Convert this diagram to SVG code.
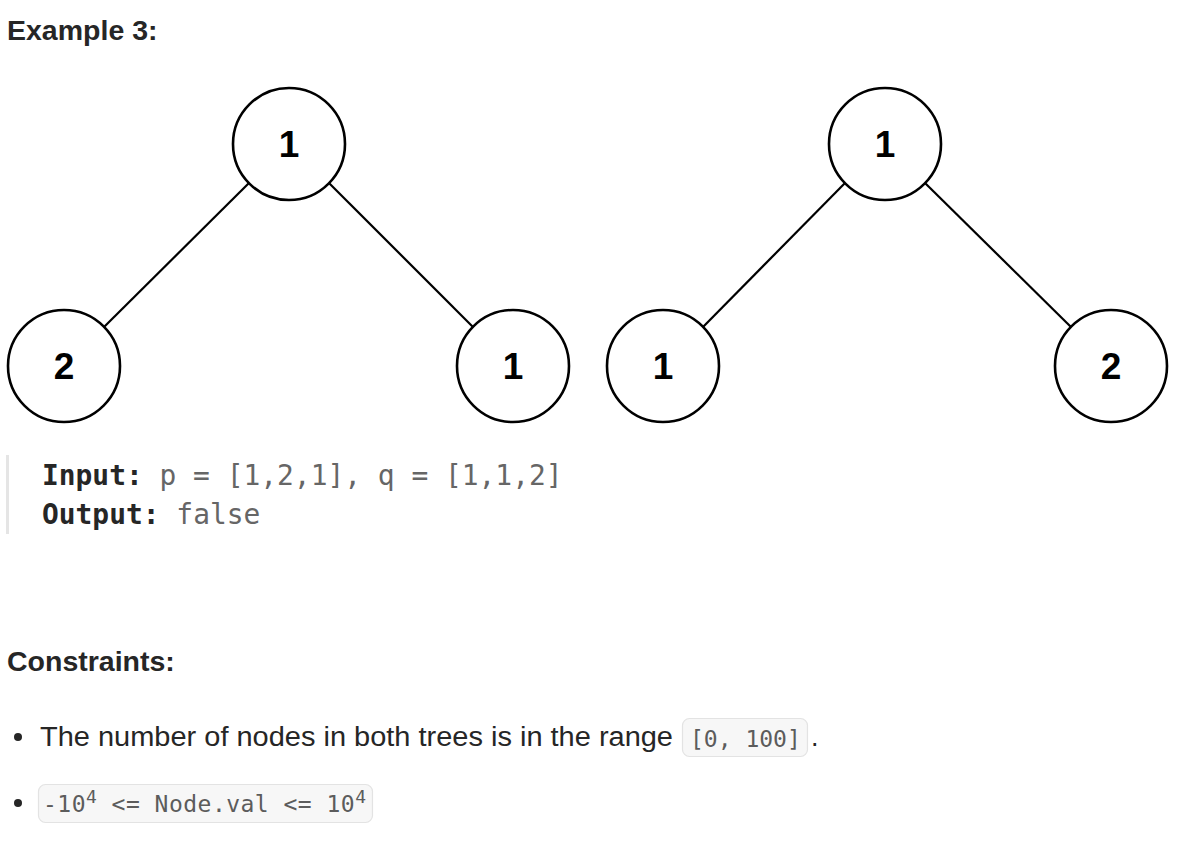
<svg xmlns="http://www.w3.org/2000/svg" width="1204" height="842" viewBox="0 0 1204 842">
<style>
.node circle{fill:#fff;stroke:#000;stroke-width:2.6}
.node text{font-family:"Liberation Sans",Arial,sans-serif;font-weight:bold;font-size:37px;fill:#000;text-anchor:middle}
.edge{stroke:#000;stroke-width:2.2;fill:none}
.h{font-family:"Liberation Sans",Arial,sans-serif;font-weight:bold;font-size:28.5px;fill:#262626}
.body{font-family:"Liberation Sans",Arial,sans-serif;font-size:27px;fill:#262626}
.mono{font-family:"DejaVu Sans Mono","Liberation Mono",monospace;font-size:27.9px;fill:#666}
.mono .b{font-weight:bold;fill:#262626}
.code{font-family:"DejaVu Sans Mono","Liberation Mono",monospace;font-size:23px;fill:#5c5c5c}
.cbox{fill:#f7f7f7;stroke:#e3e3e3;stroke-width:1.2}
</style>
<rect width="1204" height="842" fill="#fff"/>
<text class="h" x="7" y="40">Example 3:</text>
<g id="connectors">
<line class="edge" x1="249" y1="183" x2="104" y2="327"/>
<line class="edge" x1="329" y1="183" x2="473" y2="327"/>
<line class="edge" x1="845" y1="183" x2="703" y2="327"/>
<line class="edge" x1="925" y1="183" x2="1071" y2="327"/>
</g>
<g id="p1" class="node"><circle cx="289" cy="144" r="56"/><text x="289" y="157">1</text></g>
<g id="p2" class="node"><circle cx="64" cy="366" r="56"/><text x="64" y="379">2</text></g>
<g id="p3" class="node"><circle cx="513" cy="366" r="56"/><text x="513" y="379">1</text></g>
<g id="q1" class="node"><circle cx="885" cy="144" r="56"/><text x="885" y="157">1</text></g>
<g id="q2" class="node"><circle cx="663" cy="366" r="56"/><text x="663" y="379">1</text></g>
<g id="q3" class="node"><circle cx="1111" cy="366" r="56"/><text x="1111" y="379">2</text></g>
<rect x="6" y="455" width="3" height="79" fill="#e5e5e5"/>
<text class="mono" x="42" y="485"><tspan class="b">Input:</tspan> p = [1,2,1], q = [1,1,2]</text>
<text class="mono" x="42" y="524"><tspan class="b">Output:</tspan> false</text>
<text class="h" x="7" y="671">Constraints:</text>
<circle cx="18" cy="737" r="4" fill="#262626"/>
<text class="body" x="40" y="746" textLength="633" lengthAdjust="spacingAndGlyphs">The number of nodes in both trees is in the range</text>
<rect class="cbox" x="682.500" y="718.500" width="125" height="38" rx="7"/>
<text class="code" x="690" y="747">[0, 100]</text>
<text class="body" x="811" y="746">.</text>
<circle cx="18" cy="803" r="4" fill="#262626"/>
<rect class="cbox" x="38.500" y="784.500" width="334" height="38" rx="7"/>
<text class="code" x="43" y="812" font-size="23.5" textLength="323" lengthAdjust="spacing">-10<tspan font-size="18" dy="-9">4</tspan><tspan dy="9"> &lt;= Node.val &lt;= 10</tspan><tspan font-size="18" dy="-9">4</tspan></text>
</svg>
